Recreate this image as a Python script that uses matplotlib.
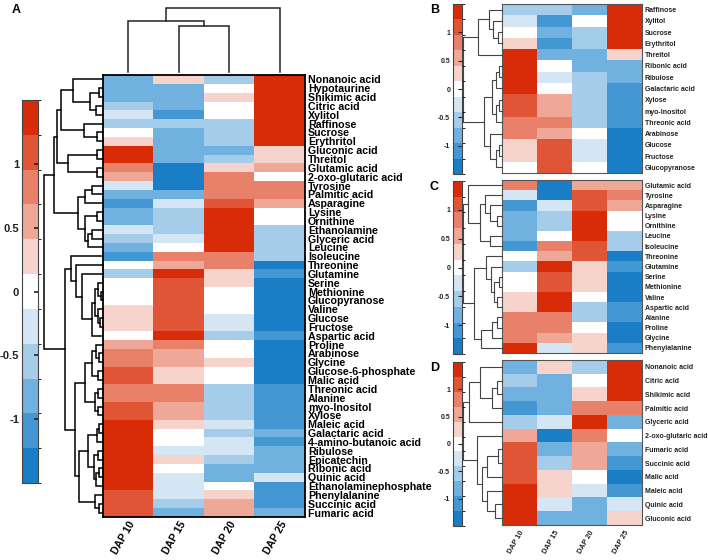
import matplotlib
matplotlib.use('Agg')
import matplotlib.pyplot as plt
import numpy as np
from matplotlib.colors import ListedColormap, BoundaryNorm
from matplotlib.cm import ScalarMappable

plt.rcParams['font.family'] = ['Liberation Sans', 'DejaVu Sans']
plt.rcParams['font.weight'] = 'bold'

days = ['DAP 10', 'DAP 15', 'DAP 20', 'DAP 25']

# ---- panel A : all metabolites (row z-scores)
a_names = ['Nonanoic acid', 'Hypotaurine', 'Shikimic acid', 'Citric acid', 'Xylitol',
           'Raffinose', 'Sucrose', 'Erythritol', 'Gluconic acid', 'Threitol',
           'Glutamic acid', '2-oxo-glutaric acid', 'Tyrosine', 'Palmitic acid', 'Asparagine',
           'Lysine', 'Ornithine', 'Ethanolamine', 'Glyceric acid', 'Leucine',
           'Isoleucine', 'Threonine', 'Glutamine', 'Serine', 'Methionine',
           'Glucopyranose', 'Valine', 'Glucose', 'Fructose', 'Aspartic acid',
           'Proline', 'Arabinose', 'Glycine', 'Glucose-6-phosphate', 'Malic acid',
           'Threonic acid', 'Alanine', 'myo-Inositol', 'Xylose', 'Maleic acid',
           'Galactaric acid', '4-amino-butanoic acid', 'Ribulose', 'Epicatechin', 'Ribonic acid',
           'Quinic acid', 'Ethanolaminephosphate', 'Phenylalanine', 'Succinic acid', 'Fumaric acid']
a_dap10 = [-0.8, -0.8, -0.8, -0.55, -0.3, -0.55, 0.0, 0.3, 1.4, 1.4,
           0.8, 0.55, -0.3, -0.8, -1.1, -0.8, -0.8, -0.3, -0.55, -0.8,
           -1.1, 0.0, -0.55, 0.0, 0.0, 0.0, 0.3, 0.3, 0.3, 0.0,
           0.55, 0.8, 0.8, 1.1, 1.1, 0.8, 0.8, 1.1, 1.1, 1.4,
           1.4, 1.4, 1.4, 1.4, 1.4, 1.4, 1.4, 1.1, 1.1, 1.1]
a_dap15 = [0.3, -0.8, -0.8, -0.8, -1.1, -0.55, -0.8, -0.8, -0.8, -0.8,
           -1.4, -1.4, -1.4, -0.8, -0.3, -0.55, -0.55, -0.55, -0.3, 0.0,
           0.8, 0.55, 1.4, 1.1, 1.1, 1.1, 1.1, 1.1, 1.1, 1.4,
           0.8, 0.55, 0.55, 0.3, 0.3, 0.8, 0.8, 0.55, 0.55, 0.3,
           0.0, 0.0, -0.3, 0.3, 0.0, -0.3, -0.3, -0.3, -0.55, -0.8]
a_dap20 = [-0.55, 0.0, 0.3, 0.0, 0.0, -0.55, -0.55, -0.55, -0.8, -0.55,
           0.3, 0.8, 0.8, 0.8, 1.1, 1.4, 1.4, 1.4, 1.4, 1.4,
           0.8, 0.8, 0.3, 0.3, 0.0, 0.0, 0.0, -0.3, -0.3, -0.55,
           0.0, 0.0, 0.3, 0.0, 0.0, -0.55, -0.55, -0.55, -0.55, -0.3,
           -0.55, -0.3, -0.3, -0.55, -0.8, -0.8, 0.0, 0.3, 0.55, 0.55]
a_dap25 = [1.4, 1.4, 1.4, 1.4, 1.4, 1.4, 1.4, 1.4, 0.3, 0.3,
           0.55, 0.0, 0.8, 0.8, 0.55, 0.0, 0.0, -0.55, -0.55, -0.55,
           -0.55, -1.4, -1.1, -1.4, -1.4, -1.4, -1.4, -1.4, -1.4, -1.1,
           -1.4, -1.4, -1.4, -1.4, -1.4, -1.1, -1.1, -1.1, -1.1, -1.1,
           -0.8, -1.1, -0.8, -0.8, -0.8, -0.3, -1.1, -1.1, -1.1, -0.8]

# ---- panel B : sugars and polyols
b_names = ['Raffinose', 'Xylitol', 'Sucrose', 'Erythritol', 'Threitol', 'Ribonic acid',
           'Ribulose', 'Galactaric acid', 'Xylose', 'myo-Inositol', 'Threonic acid',
           'Arabinose', 'Glucose', 'Fructose', 'Glucopyranose']
b_dap10 = [-0.55, -0.3, 0.0, 0.3, 1.4, 1.4, 1.4, 1.4, 1.1, 1.1, 0.8, 0.8, 0.3, 0.3, 0.0]
b_dap15 = [-0.55, -1.1, -0.8, -1.1, -0.8, 0.0, -0.3, 0.0, 0.55, 0.55, 0.8, 0.55, 1.1, 1.1, 1.1]
b_dap20 = [-0.8, 0.0, -0.55, -0.55, -0.8, -0.8, -0.55, -0.55, -0.55, -0.55, -0.55, 0.0, -0.3, -0.3, 0.0]
b_dap25 = [1.4, 1.4, 1.4, 1.4, 0.3, -0.8, -0.8, -1.1, -1.1, -1.1, -1.1, -1.4, -1.4, -1.4, -1.4]

# ---- panel C : amino acids
c_names = ['Glutamic acid', 'Tyrosine', 'Asparagine', 'Lysine', 'Ornithine', 'Leucine',
           'Isoleucine', 'Threonine', 'Glutamine', 'Serine', 'Methionine', 'Valine',
           'Aspartic acid', 'Alanine', 'Proline', 'Glycine', 'Phenylalanine']
c_dap10 = [0.8, -0.3, -1.1, -0.8, -0.8, -0.8, -1.1, 0.0, -0.55, 0.0, 0.0, 0.3, 0.3, 0.8, 0.8, 0.8, 1.4]
c_dap15 = [-1.4, -1.4, -0.3, -0.55, -0.55, 0.0, 0.8, 0.55, 1.4, 1.1, 1.1, 1.4, 1.4, 0.8, 0.8, 0.55, -0.3]
c_dap20 = [0.55, 1.1, 1.1, 1.4, 1.4, 1.4, 1.1, 1.1, 0.3, 0.3, 0.3, 0.0, -0.55, -0.55, 0.0, 0.3, 0.3]
c_dap25 = [0.55, 0.8, 0.55, 0.0, 0.0, -0.55, -0.55, -1.4, -1.1, -1.4, -1.4, -1.4, -1.1, -1.1, -1.4, -1.4, -1.1]

# ---- panel D : organic acids
d_names = ['Nonanoic acid', 'Citric acid', 'Shikimic acid', 'Palmitic acid', 'Glyceric acid',
           '2-oxo-glutaric acid', 'Fumaric acid', 'Succinic acid', 'Malic acid', 'Maleic acid',
           'Quinic acid', 'Gluconic acid']
d_dap10 = [-0.8, -0.55, -0.8, -1.1, -0.55, 0.55, 1.1, 1.1, 1.1, 1.4, 1.4, 1.4]
d_dap15 = [0.3, -0.8, -0.8, -0.8, -0.3, -1.4, -0.8, -0.55, 0.3, 0.3, -0.3, -0.8]
d_dap20 = [-0.55, 0.0, 0.3, 0.8, 1.4, 0.8, 0.55, 0.55, 0.0, -0.3, -0.8, -0.8]
d_dap25 = [1.4, 1.4, 1.4, 0.8, -0.8, 0.0, -0.8, -1.1, -1.4, -1.1, -0.3, 0.3]

# dendrograms: [left, right, merge height], leaves = row index
a_t1 = [[0, [[1, 2, 0.06], [3, 4, 0.12], 0.22], 0.51], [5, [6, 7, 0.10], 0.32], 0.72]
a_t2 = [[8, 9, 0.10], [10, 11, 0.10], 0.59]
a_t3 = [[[12, 13, 0.19], 14, 0.31], [[15, 16, 0.10], [[17, 18, 0.19], 19, 0.25], 0.31], 0.42]
a_top = [[a_t1, a_t2, 0.78], a_t3, 0.83]
a_b1 = [20, [21, [22, [[[23, [24, 25, 0.04], 0.08], [26, [27, 28, 0.05], 0.08], 0.14],
                       29, 0.19], 0.35], 0.46], 0.54]
a_b2 = [[[30, [31, 32, 0.06], 0.12], [33, 34, 0.08], 0.19],
        [[35, 36, 0.08], [37, 38, 0.08], 0.14], 0.31]
a_b3 = [[[[39, 40, 0.06], 41, 0.10], [[42, 43, 0.08], [[44, 45, 0.06], 46, 0.12], 0.16], 0.25],
        [47, [48, 49, 0.06], 0.14], 0.40]
a_bottom = [a_b1, [a_b2, a_b3, 0.47], 0.64]
a_tree = [a_top, a_bottom, 1.0]
a_col_tree = [[0, [1, 2, 0.72], 0.80], 3, 1.0]

b_tree = [[[0, [1, [2, 3, 0.10], 0.23], 0.33], 4, 0.62],
          [[[[5, 6, 0.08], 7, 0.15], [[8, 9, 0.08], 10, 0.15], 0.26],
           [11, [[12, 13, 0.08], 14, 0.15], 0.31], 0.46], 1.0]
c_tree = [[0, [[1, [2, [3, 4, 0.13], 0.31], 0.44], [5, 6, 0.31], 0.56], 0.87],
          [[7, [8, [[9, 10, 0.08], [11, 12, 0.13], 0.20], 0.28], 0.41],
           [[[13, 14, 0.13], 15, 0.26], 16, 0.54], 0.72], 1.0]
d_tree = [[[0, [[1, 2, 0.13], 3, 0.26], 0.56], 4, 0.85],
          [5, [[[6, 7, 0.10], 8, 0.38], [9, [10, 11, 0.18], 0.38], 0.51], 0.64], 1.0]

colors = ['#1a7ec6', '#4398d4', '#70b1df', '#a5cdea', '#d4e6f4', '#ffffff',
          '#f6d4cb', '#efa898', '#e8806a', '#e05535', '#d82c08']
cmap = ListedColormap(colors)
norm = BoundaryNorm(np.linspace(-1.5, 1.5, 12), cmap.N)

W, H = 708, 560
fig = plt.figure(figsize=(W / 100, H / 100), dpi=100)


def box(x0, y0, x1, y1):
    return [x0 / W, 1 - y1 / H, (x1 - x0) / W, (y1 - y0) / H]


def draw_tree(ax, node, side, color, lw):
    if isinstance(node, int):
        return node, 0.0
    left, right, h = node
    pl, hl = draw_tree(ax, left, side, color, lw)
    pr, hr = draw_tree(ax, right, side, color, lw)
    if side == 'left':
        ax.plot([hl, h, h, hr], [pl, pl, pr, pr], color=color, lw=lw, clip_on=False,
                solid_joinstyle='miter')
    else:
        ax.plot([pl, pl, pr, pr], [hl, h, h, hr], color=color, lw=lw, clip_on=False,
                solid_joinstyle='miter')
    return (pl + pr) / 2, h


def heatmap(rect, cols, names, fs, edge, elw):
    data = np.array(cols).T
    ax = fig.add_axes(rect)
    ax.imshow(data, cmap=cmap, norm=norm, aspect='auto', interpolation='nearest')
    ax.set_yticks(range(len(names)))
    ax.set_yticklabels(names, fontsize=fs, fontweight='bold')
    ax.yaxis.tick_right()
    ax.tick_params(length=0, pad=2)
    ax.set_xticks([])
    for s in ax.spines.values():
        s.set_color(edge)
        s.set_linewidth(elw)
    return ax


def row_dendro(rect, tree, n, color, lw):
    ax = fig.add_axes(rect)
    draw_tree(ax, tree, 'left', color, lw)
    ax.set_xlim(1.0, 0.0)
    ax.set_ylim(n - 0.5, -0.5)
    ax.axis('off')


def colorbar(rect, fs, tw):
    cax = fig.add_axes(rect)
    cb = fig.colorbar(ScalarMappable(norm=norm, cmap=cmap), cax=cax,
                      spacing='proportional', ticks=[-1, -0.5, 0, 0.5, 1])
    cb.set_ticklabels(['-1', '-0.5', '0', '0.5', '1'])
    cax.tick_params(left=False, right=True, labelleft=True, labelright=False,
                    direction='in', length=3, width=tw, labelsize=fs, pad=2, colors='#222')
    for t in cax.get_yticklabels():
        t.set_fontweight('bold')
    cb.outline.set_linewidth(0.8)
    cb.outline.set_edgecolor('#444')


# ---- panel A
axA = heatmap(box(103, 75, 305, 517), [a_dap10, a_dap15, a_dap20, a_dap25], a_names,
              7.7, 'black', 1.3)
axA.set_xticks(range(4))
axA.set_xticklabels(days, rotation=60, ha='right', va='top', rotation_mode='anchor',
                    fontsize=7.5, fontweight='bold')
axA.tick_params(axis='x', length=0, pad=2)
row_dendro(box(44, 75, 103, 517), a_tree, len(a_names), 'black', 1.1)

axAc = fig.add_axes(box(103, 8, 305, 72))
draw_tree(axAc, a_col_tree, 'top', '#222', 1.1)
axAc.set_xlim(-0.5, 3.5)
axAc.set_ylim(0, 1.0)
axAc.axis('off')

colorbar(box(22, 100, 38, 483), 8, 1.2)
fig.text(12 / W, 1 - 10 / H, 'A', fontsize=9, fontweight='bold', va='center')

# ---- panels B, C, D
panels = [
    ('B', 4, 173, 4, 174, [b_dap10, b_dap15, b_dap20, b_dap25], b_names, b_tree),
    ('C', 180, 353, 181, 354, [c_dap10, c_dap15, c_dap20, c_dap25], c_names, c_tree),
    ('D', 360, 525, 362, 526, [d_dap10, d_dap15, d_dap20, d_dap25], d_names, d_tree),
]
for letter, y0, y1, cy0, cy1, cols, names, tree in panels:
    ax = heatmap(box(502, y0, 642, y1), cols, names, 5.0, '#555', 0.8)
    for t in ax.get_yticklabels():
        t.set_color('#222')
    row_dendro(box(463, y0, 502, y1), tree, len(names), '#444', 0.8)
    colorbar(box(453, cy0, 462, cy1), 5, 0.8)
    fig.text(430 / W, 1 - (cy0 + 6) / H, letter, fontsize=9, fontweight='bold', va='center')
    if letter == 'D':
        ax.set_xticks(range(4))
        ax.set_xticklabels(days, rotation=60, ha='right', va='top', rotation_mode='anchor',
                           fontsize=5.3, fontweight='bold', color='#222')
        ax.tick_params(axis='x', length=0, pad=3)

fig.savefig('out.png', dpi=100)
